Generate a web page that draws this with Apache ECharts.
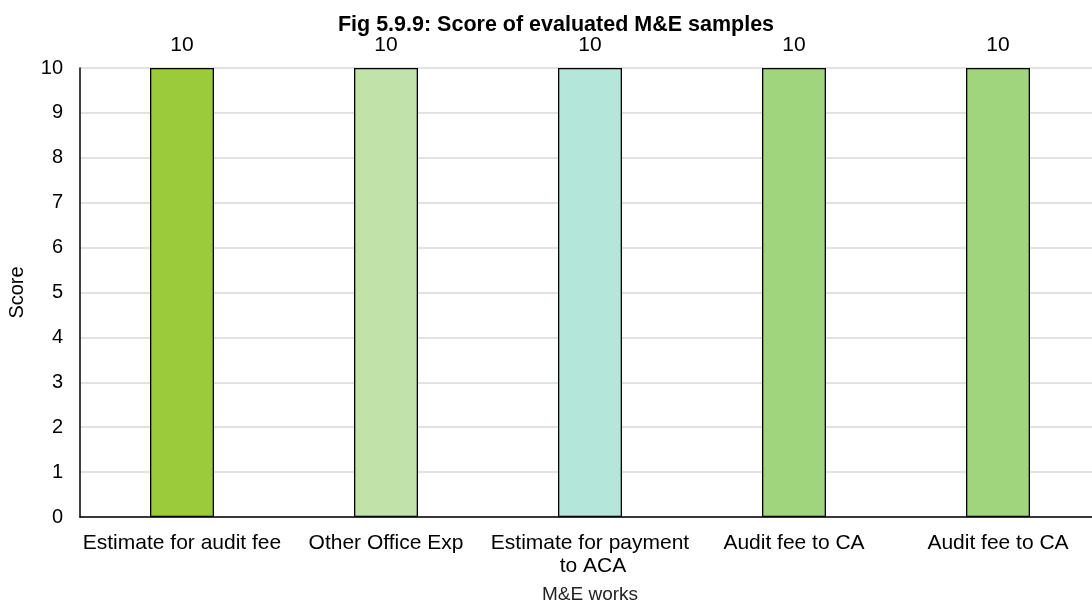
<!DOCTYPE html>
<html>
<head>
<meta charset="utf-8">
<script src="https://cdn.jsdelivr.net/npm/echarts@6/dist/echarts.min.js"></script>
<style>
  html, body { margin: 0; padding: 0; background: #fff; }
  #chart { width: 1092px; height: 609px; }
</style>
</head>
<body>
<div id="chart"></div>
<script>
// M&E sample scores
const categories = [
  'Estimate for audit fee',
  'Other Office Exp',
  'Estimate for payment to ACA',
  'Audit fee to CA',
  'Audit fee to CA'
];
const scores = [10, 10, 10, 10, 10];
const barColors = ['#9BCB3B', '#C1E3AA', '#B4E6D9', '#A1D57D', '#A1D57D'];
const yTicks = [0, 1, 2, 3, 4, 5, 6, 7, 8, 9, 10];

const font = 'Liberation Sans, Arial, sans-serif';
const chart = echarts.init(document.getElementById('chart'));

chart.setOption({
  animation: false,
  title: {
    text: 'Fig 5.9.9: Score of evaluated M&E samples',
    left: 551,
    textAlign: 'center',
    top: 9,
    textStyle: { fontFamily: font, fontSize: 21.5, fontWeight: 'bold', color: '#000' }
  },
  grid: {
    left: 80, top: 68, width: 1020, height: 449,
    outerBoundsMode: 'none',
    containLabel: false
  },
  xAxis: {
    type: 'category',
    data: categories,
    name: 'M&E works',
    nameLocation: 'middle',
    nameGap: 68,
    nameTextStyle: { fontFamily: font, fontSize: 19, color: '#222' },
    axisLine: { lineStyle: { color: '#000', width: 1.5 } },
    axisTick: { show: false },
    axisLabel: {
      interval: 0,
      fontFamily: font,
      fontSize: 21,
      color: '#000',
      margin: 15,
      width: 200,
      overflow: 'break',
      lineHeight: 23
    }
  },
  yAxis: {
    type: 'value',
    min: yTicks[0],
    max: yTicks[yTicks.length - 1],
    interval: 1,
    name: 'Score',
    nameLocation: 'middle',
    nameGap: 53,
    nameRotate: 90,
    nameTextStyle: { fontFamily: font, fontSize: 20, color: '#000' },
    axisLine: { show: true, lineStyle: { color: '#000', width: 1.5 } },
    axisTick: { show: false },
    axisLabel: { fontFamily: font, fontSize: 20, color: '#000', margin: 17, lineHeight: 24 },
    splitLine: { lineStyle: { color: '#D9D9D9', width: 1.5 } }
  },
  series: [{
    type: 'bar',
    data: scores.map((v, i) => ({ value: v, itemStyle: { color: barColors[i] } })),
    barWidth: 64,
    itemStyle: { borderColor: '#000', borderWidth: 1.3 },
    label: {
      show: true,
      position: 'top',
      distance: 12,
      fontFamily: font,
      fontSize: 21,
      color: '#000'
    }
  }]
});
</script>
</body>
</html>
